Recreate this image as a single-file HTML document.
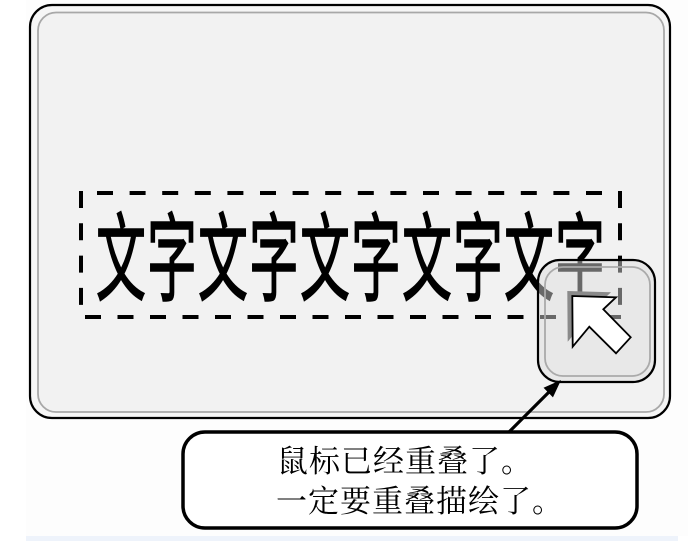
<!DOCTYPE html>
<html>
<head>
<meta charset="utf-8">
<style>
  html, body { margin:0; padding:0; background:#ffffff; }
  body { width:688px; height:541px; overflow:hidden; }
  svg { display:block; }
</style>
</head>
<body>
<svg width="688" height="541" viewBox="0 0 688 541" xmlns="http://www.w3.org/2000/svg">
  <rect x="0" y="0" width="688" height="541" fill="#ffffff"/>
  <rect x="26" y="0" width="662" height="536" fill="#fdfdfd"/>
  <!-- bottom light strip -->
  <rect x="26" y="536" width="652" height="5" fill="#eef3fb"/>

  <!-- outer panel -->
  <rect x="30" y="5" width="640" height="413" rx="22" ry="22" fill="#f6f6f6" stroke="#000" stroke-width="2.2"/>
  <rect x="38" y="12.5" width="626" height="399.5" rx="18" ry="18" fill="#f2f2f2" stroke="#a8a8a8" stroke-width="1.8"/>

  <!-- dashed selection rectangle -->
  <g stroke="#000" stroke-width="4" fill="none">
    <line x1="97" y1="193" x2="622" y2="193" stroke-dasharray="16 16.6"/>
    <line x1="85" y1="317" x2="622" y2="317" stroke-dasharray="16 16.5"/>
    <line x1="81" y1="191" x2="81" y2="320" stroke-dasharray="17 15.3"/>
    <line x1="620" y1="191" x2="620" y2="320" stroke-dasharray="17 15.3"/>
  </g>

  <!-- big text -->
  <g font-family="'Liberation Sans','Noto Sans CJK SC','WenQuanYi Zen Hei',sans-serif" font-size="96" fill="#000" stroke="#000" stroke-width="1.6">
    <text transform="translate(96,293) scale(0.52,1)">文</text>
    <text transform="translate(147,293) scale(0.52,1)">字</text>
    <text transform="translate(198,293) scale(0.52,1)">文</text>
    <text transform="translate(249,293) scale(0.52,1)">字</text>
    <text transform="translate(300,293) scale(0.52,1)">文</text>
    <text transform="translate(351,293) scale(0.52,1)">字</text>
    <text transform="translate(402,293) scale(0.52,1)">文</text>
    <text transform="translate(453,293) scale(0.52,1)">字</text>
    <text transform="translate(504,293) scale(0.52,1)">文</text>
    <text transform="translate(555,293) scale(0.52,1)">字</text>
  </g>

  <!-- cursor overlay box -->
  <rect x="538" y="260" width="117" height="122" rx="22" ry="22" fill="rgba(220,220,220,0.47)" stroke="#000" stroke-width="2.2"/>
  <rect x="545" y="267" width="105" height="109" rx="18" ry="18" fill="none" stroke="#aaaaaa" stroke-width="1.8"/>

  <!-- cursor shadow -->
  <polygon points="567.3,291 611,292.3 598.3,304.3 625.7,332.3 611,348.3 584.3,321.7 567.7,341.7" fill="#8a8a8a"/>
  <!-- cursor arrow -->
  <polygon points="572.3,296 616,297.3 603.3,309.3 630.7,337.3 616,353.3 589.3,326.7 572.7,346.7" fill="#ffffff" stroke="#000" stroke-width="1.8" stroke-linejoin="miter"/>

  <!-- connector arrow -->
  <line x1="508" y1="433" x2="550" y2="391" stroke="#000" stroke-width="3.2"/>
  <polygon points="560,381 552.8,396.5 544.4,387.9" fill="#000" stroke="#000" stroke-width="1"/>

  <!-- callout box -->
  <rect x="183" y="432" width="454" height="96" rx="22" ry="22" fill="#ffffff" stroke="#000" stroke-width="3.5"/>
  <g font-family="'Liberation Serif','Noto Serif CJK SC','Noto Sans CJK SC',serif" font-size="31" fill="#000" letter-spacing="1">
    <text x="277" y="472">鼠标已经重叠了。</text>
    <text x="276" y="512">一定要重叠描绘了。</text>
  </g>
</svg>
</body>
</html>
